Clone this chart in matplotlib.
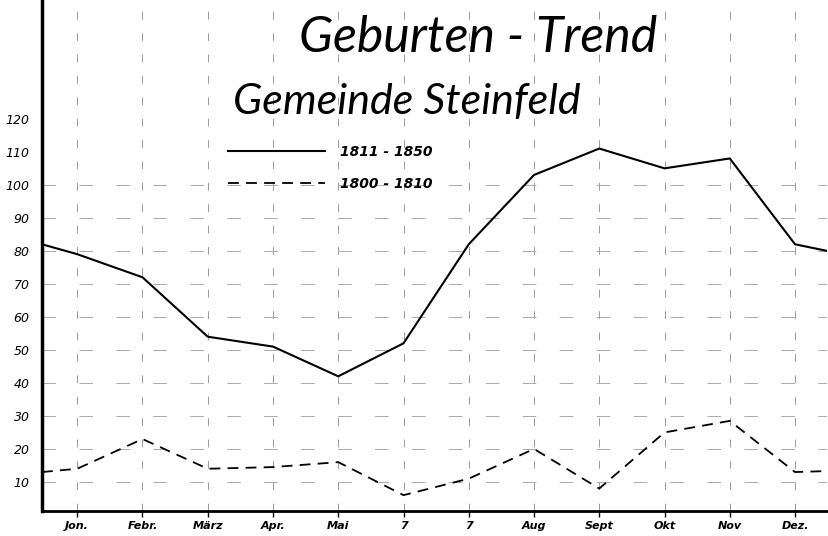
import matplotlib
matplotlib.use("Agg")
import matplotlib.pyplot as plt

# month labels as written on the sheet
months = ["Jon.", "Febr.", "März", "Apr.", "Mai", "7", "7", "Aug", "Sept", "Okt", "Nov", "Dez."]
y_ticks = [10, 20, 30, 40, 50, 60, 70, 80, 90, 100, 110, 120]

# births per month, 1811-1850 (solid) and 1800-1810 (dashed)
births_1811_1850 = [79, 72, 54, 51, 42, 52, 82, 103, 111, 105, 108, 82]
births_1800_1810 = [14, 23, 14, 14.5, 16, 6, 11, 20, 8, 25, 28.5, 13]
# where the curves leave the left axis and the right edge
edge_1811_1850 = (82, 80)
edge_1800_1810 = (13, 13.3)

x_left, x_right = -0.54, 11.49


def curve(values, edges):
    xs = [x_left] + list(range(len(values))) + [x_right]
    ys = [edges[0]] + list(values) + [edges[1]]
    return xs, ys


fig = plt.figure(figsize=(8.29, 5.36), dpi=100)
ax = fig.add_axes([42 / 829, 25 / 536, 785 / 829, 511 / 536])

# loose hand-drawn style grid
for i in range(len(months)):
    ax.axvline(i, color="#999999", lw=0.7, dashes=(8, 14), zorder=0)
for v in y_ticks[:-2]:
    ax.axhline(v, color="#aaaaaa", lw=0.7, dashes=(14, 24), zorder=0)

xs, ys = curve(births_1811_1850, edge_1811_1850)
ax.plot(xs, ys, color="black", lw=1.5, label="1811 - 1850")
xs, ys = curve(births_1800_1810, edge_1800_1810)
ax.plot(xs, ys, color="black", lw=1.3, dashes=(6, 4), label="1800 - 1810")

ax.set_xlim(x_left, x_right)
ax.set_ylim(1.2, 156)
ax.set_xticks(range(len(months)))
ax.set_xticklabels(months, fontstyle="italic", fontweight="bold", fontsize=8)
ax.set_yticks(y_ticks)
ax.set_yticklabels([str(v) for v in y_ticks], fontstyle="italic", fontsize=9)
ax.tick_params(axis="x", length=4, width=1, pad=3)
ax.tick_params(axis="y", length=0, pad=9)

for side in ["top", "right"]:
    ax.spines[side].set_visible(False)
ax.spines["left"].set_linewidth(2.5)
ax.spines["bottom"].set_linewidth(2)

fig.text(478 / 829, 1 - 38 / 536, "Geburten - Trend", ha="center", va="center",
         fontsize=36, fontstyle="italic", family="Lato")
fig.text(407 / 829, 1 - 102 / 536, "Gemeinde Steinfeld", ha="center", va="center",
         fontsize=31, fontstyle="italic", family="Lato")

leg = ax.legend(loc="upper left", bbox_to_anchor=(228 / 829, 1 - 145 / 536),
                bbox_transform=fig.transFigure, frameon=False, handlelength=7.0,
                handletextpad=1.1, labelspacing=1.3, borderpad=0, borderaxespad=0,
                prop={"style": "italic", "weight": "bold", "size": 10})

fig.savefig("out.png", dpi=100)
